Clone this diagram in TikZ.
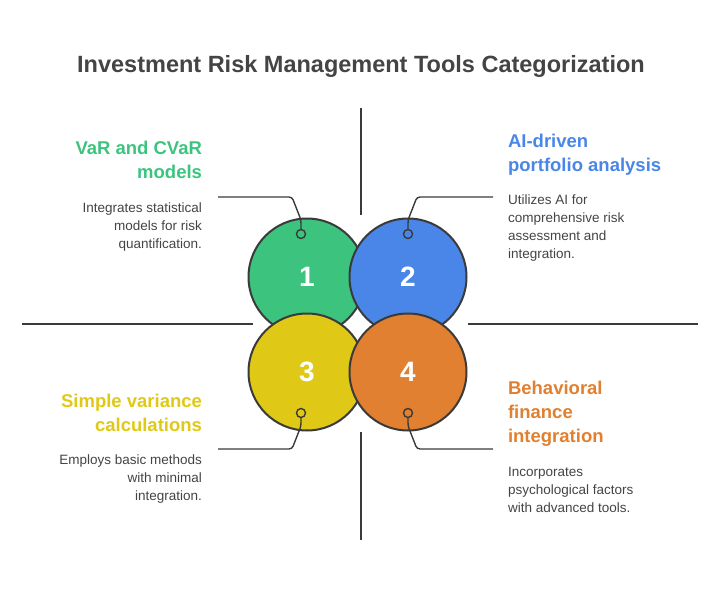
\documentclass[tikz,border=0pt]{standalone}
\usepackage{fontspec}
\setmainfont{Liberation Sans}
\usetikzlibrary{positioning}
\definecolor{cgreen}{HTML}{3CC47F}
\definecolor{cblue}{HTML}{4A86E8}
\definecolor{cyellow}{HTML}{E0C916}
\definecolor{corange}{HTML}{E08030}
\definecolor{cline}{HTML}{3A3A3A}
\definecolor{ctext}{HTML}{444444}
\begin{document}
\begin{tikzpicture}[
        x = 1pt, y = -1pt, % pixel grid
        line width = 1.4pt
    ]

    \tikzset{
        bubble/.style = {circle, draw = cline, line width = 2pt, minimum size = 117pt,
            inner sep = 0pt, text = white, font = \fontsize{28}{28}\selectfont\bfseries},
        dot/.style = {circle, draw = cline, line width = 1.4pt, minimum size = 9pt, inner sep = 0pt},
        heading/.style = {font = \fontsize{18.5}{24}\selectfont\bfseries, align = #1},
        descr/.style = {font = \fontsize{13.5}{18}\selectfont, text = ctext, align = #1}
    }

    \useasboundingbox (0,0) rectangle (721,589);

    % axes
    \draw[cline] (361,108) -- (361,215);
    \draw[cline] (361,432) -- (361,540);
    \draw[cline] (22,324) -- (253,324);
    \draw[cline] (468,324) -- (698,324);

    % circles
    \node (c1) [bubble, fill = cgreen] at (307,277) {1};
    \node (c2) [bubble, fill = cblue] at (408,277) {2};
    \node (c3) [bubble, fill = cyellow] at (307,372) {3};
    \node (c4) [bubble, fill = corange] at (408,372) {4};

    % dots and leaders
    \node (d1) [dot, fill = cgreen] at (301,234) {};
    \node (d2) [dot, fill = cblue] at (408,234) {};
    \node (d3) [dot, fill = cyellow] at (301,413) {};
    \node (d4) [dot, fill = corange] at (408,413) {};
    \coordinate (e1) at (218,197); \coordinate (e2) at (493,197);
    \coordinate (e3) at (218,449); \coordinate (e4) at (493,449);
    \draw[cline, rounded corners = 3pt] (e1) -- (292,197) -- (301,220) -- (d1);
    \draw[cline, rounded corners = 3pt] (e2) -- (417,197) -- (408,220) -- (d2);
    \draw[cline, rounded corners = 3pt] (e3) -- (292,449) -- (301,426) -- (d3);
    \draw[cline, rounded corners = 3pt] (e4) -- (417,449) -- (408,426) -- (d4);

    % title
    \node (title) [font = \fontsize{23.5}{26}\selectfont\bfseries, text = ctext] at (361,66)
        {Investment Risk Management Tools Categorization};

    % texts
    \node (h1) [heading = right, text = cgreen, anchor = north east] at (206,137) {VaR and CVaR\\models};
    \node (t1) [descr = right, anchor = north east] at (206,199) {Integrates statistical\\models for risk\\quantification.};
    \node (h2) [heading = left, text = cblue, anchor = north west] at (504,130) {AI-driven\\portfolio analysis};
    \node (t2) [descr = left, anchor = north west] at (504,191) {Utilizes AI for\\comprehensive risk\\assessment and\\integration.};
    \node (h3) [heading = right, text = cyellow, anchor = north east] at (206,390) {Simple variance\\calculations};
    \node (t3) [descr = right, anchor = north east] at (206,451) {Employs basic methods\\with minimal\\integration.};
    \node (h4) [heading = left, text = corange, anchor = north west] at (504,377) {Behavioral\\finance\\integration};
    \node (t4) [descr = left, anchor = north west] at (504,463) {Incorporates\\psychological factors\\with advanced tools.};

\end{tikzpicture}
\end{document}
